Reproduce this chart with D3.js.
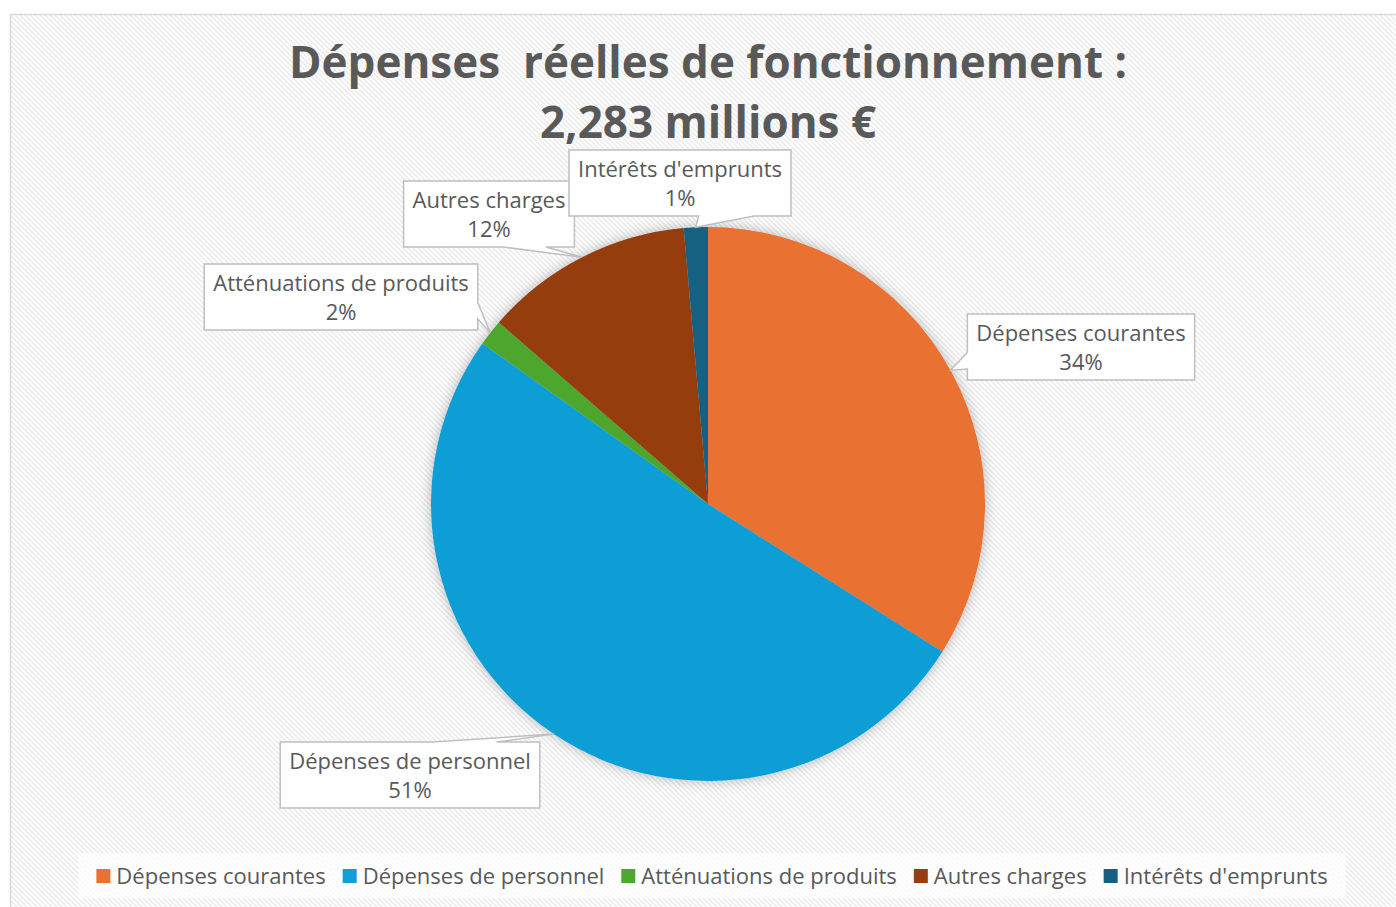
<!DOCTYPE html>
<html>
<head>
<meta charset="utf-8">
<script src="https://cdn.jsdelivr.net/npm/d3@7"></script>
<style>
  body { margin: 0; background: #fff; }
  svg { display: block; }
</style>
</head>
<body>
<svg id="chart"></svg>
<script>
const width = 1396;
const height = 907;

// data (millions €)
const titleLines = ['Dépenses  réelles de fonctionnement :', '2,283 millions €'];
const categories = ['Dépenses courantes', 'Dépenses de personnel', 'Atténuations de produits', 'Autres charges', "Intérêts d'emprunts"];
const values = [775, 1162, 35, 279, 32];
const colors = ['#E97132', '#0F9ED5', '#4EA72E', '#963E10', '#156082'];

// label box centres, relative to the pie centre
const labelOffsets = [[373, -157], [-298, 271], [-367, -207], [-219, -290], [-28, -321]];

const cx = 708, cy = 504, radius = 277;
const textColor = '#595959';
const font = '"Open Sans", "Liberation Sans", sans-serif';

const svg = d3.select('#chart')
    .attr('width', width)
    .attr('height', height);

const defs = svg.append('defs');
const pat = defs.append('pattern')
    .attr('id', 'hatch')
    .attr('patternUnits', 'userSpaceOnUse')
    .attr('width', 5).attr('height', 5);
pat.append('rect').attr('width', 5).attr('height', 5).attr('fill', '#fff');
pat.append('path')
    .attr('d', 'M-1,-1 L6,6 M-1,4 L1,6 M4,-1 L6,1')
    .attr('stroke', '#ebebeb')
    .attr('stroke-width', 1.5);

const shadow = defs.append('filter').attr('id', 'shadow')
    .attr('x', '-20%').attr('y', '-20%').attr('width', '140%').attr('height', '140%');
shadow.append('feDropShadow')
    .attr('dx', 0).attr('dy', 0)
    .attr('stdDeviation', 7)
    .attr('flood-color', '#000')
    .attr('flood-opacity', 0.28);

// chart area
svg.append('rect')
    .attr('x', 10.5).attr('y', 14.5)
    .attr('width', width + 10).attr('height', height + 10)
    .attr('fill', 'url(#hatch)')
    .attr('stroke', '#d9d9d9')
    .attr('stroke-width', 1.5);

// title
svg.append('text')
    .attr('text-anchor', 'middle')
    .attr('font-family', font)
    .attr('font-weight', 'bold')
    .attr('font-size', 44)
    .attr('fill', textColor)
    .selectAll('tspan').data(titleLines)
    .enter().append('tspan')
    .attr('x', 708)
    .attr('y', (d, i) => 78 + i * 60)
    .style('white-space', 'pre')
    .text(d => d);

const total = d3.sum(values);
const pie = d3.pie().sort(null).value(d => d);
const arcs = pie(values);
const arc = d3.arc().innerRadius(0).outerRadius(radius);
const edgeArc = d3.arc().innerRadius(radius).outerRadius(radius);

const g = svg.append('g')
    .attr('transform', `translate(${cx}, ${cy})`);

g.append('g')
    .attr('filter', 'url(#shadow)')
    .selectAll('path').data(arcs)
    .enter().append('path')
    .attr('d', arc)
    .attr('fill', (d, i) => colors[i]);

// callouts
const callouts = g.append('g')
    .attr('font-family', font)
    .attr('font-size', 22)
    .attr('fill', textColor);

arcs.forEach((d, i) => {
    const tip = edgeArc.centroid(d);
    const [bx, by] = labelOffsets[i];
    const pct = Math.round(d.value / total * 100) + '%';

    const grp = callouts.append('g');
    const t = grp.append('text').attr('text-anchor', 'middle');
    t.append('tspan').attr('x', bx).attr('y', by - 6).text(categories[i]);
    t.append('tspan').attr('x', bx).attr('y', by + 23).text(pct);

    const w = t.node().getBBox().width + 18;
    const h = 66;
    const x0 = bx - w / 2, y0 = by - h / 2, x1 = bx + w / 2, y1 = by + h / 2;
    const dx = (tip[0] - bx) / w, dy = (tip[1] - by) / h;

    let p;
    if (Math.abs(dy) >= Math.abs(dx)) {
        const a = tip[0] > bx ? x0 + w * 7 / 12 : x0 + w * 2 / 12;
        const b = tip[0] > bx ? x0 + w * 10 / 12 : x0 + w * 5 / 12;
        if (dy > 0) {
            p = `M${x0},${y0}H${x1}V${y1}H${b}L${tip[0]},${tip[1]}L${a},${y1}H${x0}Z`;
        } else {
            p = `M${x0},${y0}H${a}L${tip[0]},${tip[1]}L${b},${y0}H${x1}V${y1}H${x0}Z`;
        }
    } else {
        const a = tip[1] > by ? y0 + h * 7 / 12 : y0 + h * 2 / 12;
        const b = tip[1] > by ? y0 + h * 10 / 12 : y0 + h * 5 / 12;
        if (dx > 0) {
            p = `M${x0},${y0}H${x1}V${a}L${tip[0]},${tip[1]}L${x1},${b}V${y1}H${x0}Z`;
        } else {
            p = `M${x0},${y0}H${x1}V${y1}H${x0}V${b}L${tip[0]},${tip[1]}L${x0},${a}Z`;
        }
    }
    grp.insert('path', 'text')
        .attr('d', p)
        .attr('fill', '#fff')
        .attr('stroke', '#bfbfbf')
        .attr('stroke-width', 1.5);
});

// legend
const legend = svg.append('g')
    .attr('font-family', font)
    .attr('font-size', 22)
    .attr('fill', textColor);

const legendBg = legend.append('rect')
    .attr('fill', '#fff')
    .attr('fill-opacity', 0.75);

const items = legend.selectAll('g.item').data(categories)
    .enter().append('g').attr('class', 'item');
items.append('rect')
    .attr('width', 14).attr('height', 14)
    .attr('y', 869)
    .attr('fill', (d, i) => colors[i]);
items.append('text')
    .attr('x', 20)
    .attr('y', 884)
    .text(d => d);

const gap = 17;
const widths = items.nodes().map(n => 20 + n.querySelector('text').getComputedTextLength());
const legendWidth = d3.sum(widths) + gap * (widths.length - 1);
let lx = 712 - legendWidth / 2;
items.each(function(d, i) {
    d3.select(this).attr('transform', `translate(${lx}, 0)`);
    lx += widths[i] + gap;
});
legendBg
    .attr('x', 712 - legendWidth / 2 - 18)
    .attr('y', 853)
    .attr('width', legendWidth + 36)
    .attr('height', 45);
</script>
</body>
</html>
